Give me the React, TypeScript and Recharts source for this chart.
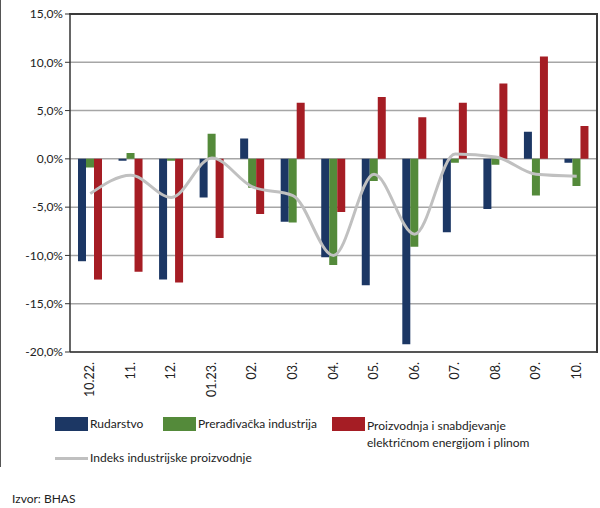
import { ComposedChart, Bar, Line, XAxis, YAxis, CartesianGrid } from 'recharts';

const categories = ['10.22.', '11.', '12.', '01.23.', '02.', '03.', '04.', '05.', '06.', '07.', '08.', '09.', '10.'];
const rudarstvo = [-10.6, -0.2, -12.5, -4.0, 2.1, -6.5, -10.2, -13.1, -19.2, -7.6, -5.2, 2.8, -0.4];
const preradjivacka = [-0.9, 0.6, -0.2, 2.6, -3.0, -6.6, -11.0, -2.3, -9.1, -0.4, -0.6, -3.8, -2.8];
const energija = [-12.5, -11.7, -12.8, -8.2, -5.7, 5.8, -5.5, 6.4, 4.3, 5.8, 7.8, 10.6, 3.4];
const indeks = [-3.6, -1.7, -4.0, 0.1, -2.9, -3.8, -10.0, -1.6, -7.8, 0.5, 0.2, -1.6, -1.8];
const yTicks = [-20, -15, -10, -5, 0, 5, 10, 15];

const BLUE = '#1c3764';
const GREEN = '#548a3a';
const RED = '#a51d24';
const GRAY = '#c0c0c0';
const FONT = 'Lato, "Noto Sans", sans-serif';

const data = categories.map((name, i) => ({
  name,
  rud: rudarstvo[i],
  prer: preradjivacka[i],
  ener: energija[i],
  ind: indeks[i],
}));

const fmt = (v: number) => (v.toFixed(1) + '%').replace('.', ',');

function XTick(props: any) {
  const { x, y, payload } = props;
  return (
    <text
      transform={`translate(${x + 4},${y + 2}) rotate(-90)`}
      textAnchor="end"
      fontSize={12.5}
      fill="#222"
      fontFamily={FONT}
    >
      {payload.value}
    </text>
  );
}

function Swatch({ color }: { color: string }) {
  return <div style={{ width: 33, height: 14, background: color }} />;
}

export default function App() {
  return (
    <div
      style={{
        position: 'absolute',
        left: 0,
        top: 0,
        width: 600,
        height: 508,
        background: '#fff',
        fontFamily: FONT,
        color: '#222',
      }}
    >
      <div style={{ position: 'absolute', left: 0, top: 0, width: 1, height: 467, background: '#555' }} />
      <ComposedChart
        width={600}
        height={400}
        data={data}
        margin={{ top: 14, right: 3, left: 0, bottom: 0 }}
        barGap={0}
        barSize={8}
      >
        <CartesianGrid vertical={false} stroke="#a6a6a6" strokeWidth={1.5} />
        <XAxis
          dataKey="name"
          height={48}
          tick={<XTick />}
          tickLine={false}
          axisLine={{ stroke: '#333', strokeWidth: 1.5 }}
          interval={0}
        />
        <YAxis
          domain={[-20, 15]}
          ticks={yTicks}
          width={70}
          tickFormatter={fmt}
          tickSize={5}
          tickLine={{ stroke: '#333' }}
          axisLine={{ stroke: '#333', strokeWidth: 1.5 }}
          tick={{ fontSize: 12, fill: '#222', fontFamily: FONT }}
          allowDataOverflow
        />
        <Bar dataKey="rud" fill={BLUE} isAnimationActive={false} />
        <Bar dataKey="prer" fill={GREEN} isAnimationActive={false} />
        <Bar dataKey="ener" fill={RED} isAnimationActive={false} />
        <Line
          dataKey="ind"
          type="monotone"
          stroke={GRAY}
          strokeWidth={3}
          dot={false}
          isAnimationActive={false}
        />
      </ComposedChart>
      {/* plot frame */}
      <div
        style={{
          position: 'absolute',
          zIndex: 5,
          left: 69,
          top: 13,
          width: 529,
          height: 340,
          borderTop: '2px solid #3a3a3a',
          borderRight: '2px solid #3a3a3a',
          boxSizing: 'border-box',
          pointerEvents: 'none',
        }}
      />

      <div style={{ position: 'absolute', left: 55, top: 417, display: 'flex', alignItems: 'flex-start', fontSize: 12 }}>
        <Swatch color={BLUE} />
        <span style={{ marginLeft: 2, lineHeight: '14px' }}>Rudarstvo</span>
      </div>
      <div style={{ position: 'absolute', left: 163, top: 417, display: 'flex', alignItems: 'flex-start', fontSize: 12 }}>
        <Swatch color={GREEN} />
        <span style={{ marginLeft: 2, lineHeight: '14px' }}>Prerađivačka industrija</span>
      </div>
      <div style={{ position: 'absolute', left: 332, top: 417, display: 'flex', alignItems: 'flex-start', fontSize: 12 }}>
        <Swatch color={RED} />
        <span style={{ marginLeft: 2, lineHeight: '17px' }}>
          Proizvodnja i snabdjevanje
          <br />
          električnom energijom i plinom
        </span>
      </div>
      <div style={{ position: 'absolute', left: 55, top: 451, display: 'flex', alignItems: 'center', fontSize: 12 }}>
        <div style={{ width: 33, height: 3, background: GRAY }} />
        <span style={{ marginLeft: 2, lineHeight: '14px' }}>Indeks industrijske proizvodnje</span>
      </div>
      <div style={{ position: 'absolute', left: 12, top: 491, fontSize: 12 }}>Izvor: BHAS</div>
    </div>
  );
}
